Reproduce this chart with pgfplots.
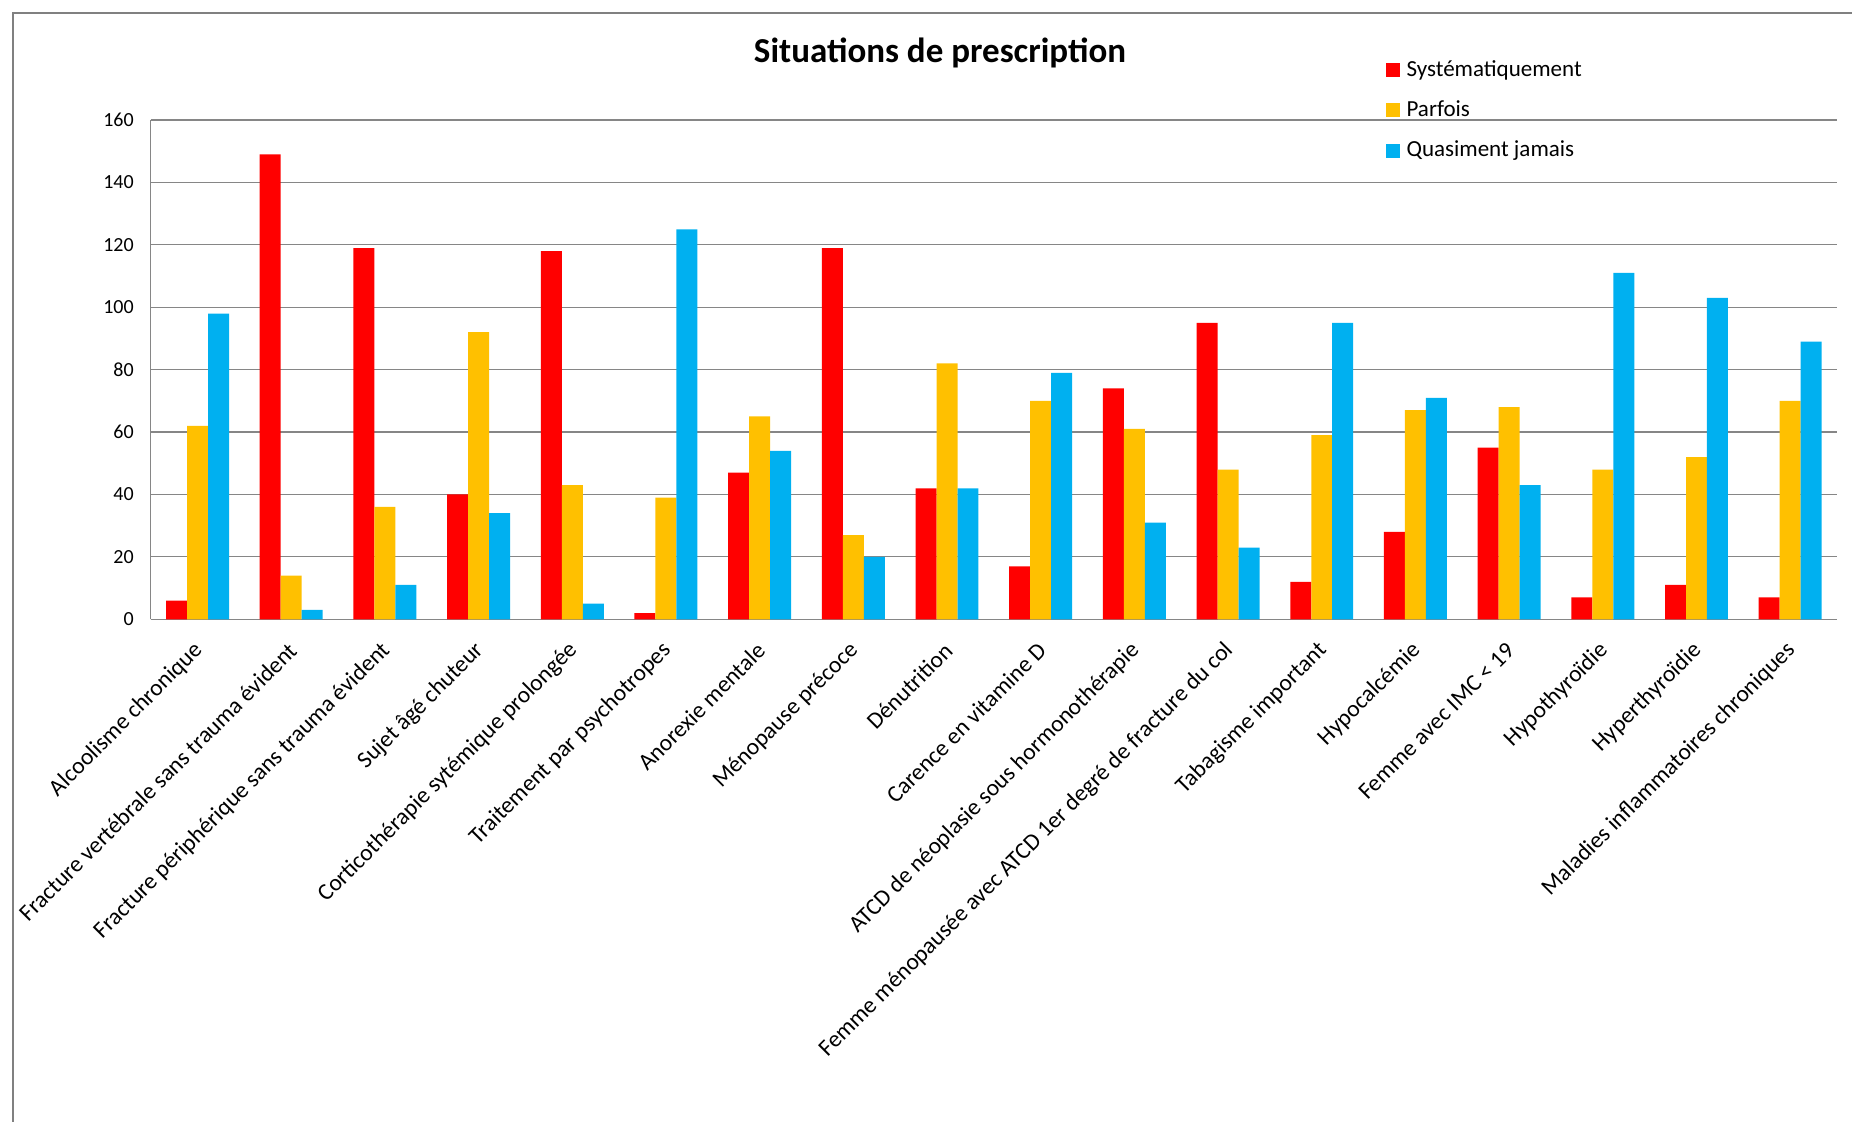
\documentclass[border=0pt]{standalone}
\usepackage{pgfplots}
\pgfplotsset{compat=1.18}
\usepackage{fontspec}
\setmainfont{Carlito}

\definecolor{sysred}{RGB}{255,0,0}
\definecolor{parfgold}{RGB}{255,192,0}
\definecolor{jamblue}{RGB}{0,176,240}
\definecolor{gridgray}{RGB}{134,134,134}
\definecolor{framegray}{RGB}{128,128,128}

\begin{document}
\begin{tikzpicture}
% page area
\path[use as bounding box] (0pt,0pt) rectangle (926pt,561pt);
% outer chart frame
\draw[framegray, line width=1pt] (6.5pt,-20pt) rectangle (960pt,554.5pt);
% title
\node[font=\fontsize{17.5}{20}\selectfont\bfseries] at (470pt,534.5pt) {Situations de prescription};

\begin{axis}[
  at={(75.35pt,251.35pt)}, anchor=south west,
  scale only axis, width=843.15pt, height=249.6pt,
  xmin=-0.5, xmax=17.5, ymin=0, ymax=160,
  ytick={0,20,...,160},
  xtick={0,...,17},
  xticklabels={Alcoolisme chronique,
    Fracture vertébrale sans trauma évident,
    Fracture périphérique sans trauma évident,
    Sujet âgé chuteur,
    Corticothérapie sytémique prolongée,
    Traitement par psychotropes,
    Anorexie mentale,
    Ménopause précoce,
    Dénutrition,
    Carence en vitamine D,
    ATCD de néoplasie sous hormonothérapie,
    Femme ménopausée avec ATCD 1er degré de fracture du col,
    Tabagisme important,
    Hypocalcémie,
    Femme avec IMC < 19,
    Hypothyroïdie,
    Hyperthyroïdie,
    Maladies inflammatoires chroniques},
  xticklabel style={xshift=1.5pt, yshift=-13pt, rotate=45, anchor=east,
    font=\fontsize{11.75}{13.5}\selectfont, inner sep=1pt},
  yticklabel style={font=\fontsize{10}{12}\selectfont, inner sep=2pt, xshift=-6.3pt},
  /pgf/number format/assume math mode=true,
  major tick length=0pt,
  axis x line*=bottom, axis y line*=left,
  axis line style={gridgray, line width=0.6pt, -},
  ymajorgrids, grid style={gridgray, line width=0.6pt},
  ybar=0pt, bar width=0.224,
  legend style={at={(0.7285,1.132)}, anchor=north west, draw=none, fill=none,
    font=\fontsize{11.5}{13}\selectfont, row sep=8.7pt,
    nodes={inner sep=1pt, anchor=west}},
  legend cell align=left,
  legend image code/.code={\fill[#1] (0pt,-3.5pt) rectangle (7pt,3.5pt); \path (9.5pt,0pt);},
]
\addplot[fill=sysred, draw=none, bar shift=-0.224] coordinates {
  (0,6) (1,149) (2,119) (3,40) (4,118) (5,2) (6,47) (7,119) (8,42)
  (9,17) (10,74) (11,95) (12,12) (13,28) (14,55) (15,7) (16,11) (17,7)};
\addplot[fill=parfgold, draw=none, bar shift=0] coordinates {
  (0,62) (1,14) (2,36) (3,92) (4,43) (5,39) (6,65) (7,27) (8,82)
  (9,70) (10,61) (11,48) (12,59) (13,67) (14,68) (15,48) (16,52) (17,70)};
\addplot[fill=jamblue, draw=none, bar shift=0.224] coordinates {
  (0,98) (1,3) (2,11) (3,34) (4,5) (5,125) (6,54) (7,20) (8,42)
  (9,79) (10,31) (11,23) (12,95) (13,71) (14,43) (15,111) (16,103) (17,89)};
\legend{Systématiquement, Parfois, Quasiment jamais}
\end{axis}
\end{tikzpicture}
\end{document}
